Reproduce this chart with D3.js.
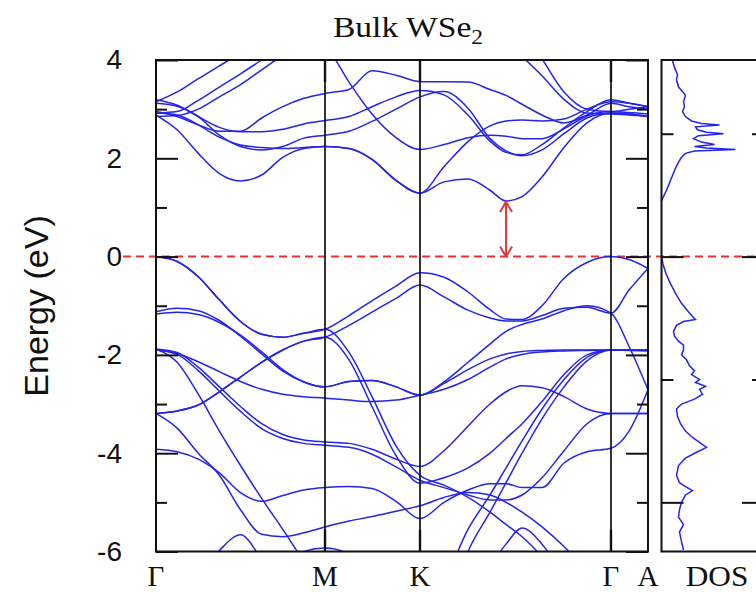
<!DOCTYPE html>
<html><head><meta charset="utf-8">
<script src="https://cdn.jsdelivr.net/npm/d3@7"></script>
<style>body{margin:0;background:#fff;} svg{display:block;}</style>
</head><body>
<svg id="chart" width="756" height="592"></svg>
<script>
// ---------- data ----------
// k-path sample positions (path length units, Γ–M = 1)
const kPoints = [0,0.125,0.25,0.375,0.5,0.625,0.75,0.875,1.0,
  1.142,1.278,1.420,1.562,
  1.704,1.846,1.976,2.071,2.166,2.284,2.414,2.550,2.692,
  2.799,2.911];
const symLabels = ["Γ","M","K","Γ","A"];
const symK = [0,1.0,1.562,2.692,2.911];
const energyTicks = [4,2,0,-2,-4,-6];
const energyMinorTicks = [3,1,-1,-3,-5];
const dosMajorTicks = [0,-5];
const dosMinorTicks = [2.5,-2.5];

// conduction bands (eV) at kPoints
const cb1 = [2.88,2.58,2.10,1.69,1.54,1.66,2.02,2.20,2.24, 2.20,1.98,1.55,1.29, 1.52,1.58,1.35,1.13,1.22,1.62,2.22,2.72,2.92, 2.90,2.85];
const cb2 = [2.92,2.88,2.68,2.43,2.27,2.22,2.20,2.22,2.24, 2.20,1.98,1.55,1.29, 1.83,2.34,2.66,2.76,2.78,2.76,2.80,3.00,3.15, 3.12,3.05];
const cb3 = [3.19,3.08,2.85,2.63,2.54,2.54,2.59,2.70,2.77, 2.85,3.05,3.25,3.38, 3.29,2.88,2.35,2.12,2.07,2.28,2.62,2.95,3.19, 3.12,3.05];
const cb4 = [3.12,3.06,2.85,2.47,2.24,2.17,2.24,2.41,2.47, 2.55,2.75,3.00,3.25, 3.36,3.02,2.40,2.15,2.05,2.17,2.50,2.82,2.92, 2.90,2.85];
const cb5 = [2.95,2.85,2.68,2.55,2.55,2.82,3.05,3.22,3.32, 3.40,3.78,3.69,3.56, 3.56,3.55,3.40,3.28,3.10,2.88,2.72,2.88,3.12, 3.05,3.00];
const cb6 = [5.6,5.5,5.4,5.2,5.0,4.85,4.7,4.5,4.3, 3.55,2.90,2.42,2.18, 2.28,2.42,2.47,2.45,2.40,2.40,2.60,2.86,2.95, 2.93,2.90];
const cb7 = [3.15,3.35,3.62,3.88,4.15,4.5,4.9,5.3,5.7, 6,6,6,6, 6,6,6,6,6,6,6,6,6, 6,6];
const cb8 = [2.92,2.95,3.18,3.45,3.72,4.0,4.3,4.6,4.9, 6,6,6,6, 6,6,6,6,6,6,6,6,6, 6,6];
const cb9 = [2.85,2.87,3.0,3.25,3.5,3.8,4.1,4.4,4.7, 6,6,6,6, 6,6,6,6,6,6,6,6,6, 6,6];
const cb10 = [6,6,6,6,6,6,6,6,6, 6,6,6,6, 6,5.3,4.85,4.45,4.08,3.68,3.2,2.92,2.90, 2.88,2.85];
const cb11 = [6,6,6,6,6,6,6,6,6, 6,6,6,6, 6,6,5.6,5.1,4.6,4.02,3.35,3.0,2.95, 3.0,3.05];

// valence bands (eV) at kPoints
const vb1 = [0,-0.10,-0.41,-0.88,-1.32,-1.58,-1.64,-1.56,-1.48, -1.20,-0.90,-0.60,-0.33, -0.42,-0.72,-1.08,-1.27,-1.28,-1.00,-0.44,-0.12,0.00, -0.06,-0.24];
const vb2 = [-3.19,-3.14,-3.02,-2.75,-2.45,-2.15,-1.90,-1.72,-1.64, -1.40,-1.13,-0.85,-0.58, -0.82,-1.09,-1.25,-1.31,-1.31,-1.20,-1.05,-1.03,-1.15, -0.68,-0.24];
const vb3 = [-1.12,-1.05,-1.10,-1.30,-1.62,-1.98,-2.33,-2.55,-2.65, -2.54,-2.52,-2.65,-2.82, -2.55,-2.15,-1.78,-1.52,-1.38,-1.27,-1.10,-1.00,-1.15, -1.83,-2.71];
const vb4 = [-1.17,-1.13,-1.18,-1.34,-1.60,-1.94,-2.30,-2.55,-2.65, -2.54,-2.52,-2.65,-2.82, -2.58,-2.30,-2.08,-1.98,-1.93,-1.91,-1.90,-1.90,-1.90, -1.90,-1.90];
const vb5 = [-1.90,-1.97,-2.14,-2.34,-2.54,-2.70,-2.80,-2.85,-2.88, -2.92,-2.95,-2.92,-2.82, -2.70,-2.50,-2.25,-2.08,-1.99,-1.94,-1.92,-1.91,-1.90, -1.91,-1.92];
const vb6 = [-1.88,-2.15,-2.80,-3.55,-4.25,-4.92,-5.55,-6.20,-6.80, -7.2,-7.4,-7.4,-7.2, -6.6,-5.55,-4.85,-4.30,-3.75,-3.10,-2.50,-2.05,-1.90, -1.90,-1.90];
const vb7 = [-1.88,-1.95,-2.25,-2.65,-3.05,-3.40,-3.62,-3.73,-3.77, -3.80,-3.92,-4.12,-4.27, -3.95,-3.45,-3.00,-2.75,-2.63,-2.67,-2.85,-3.10,-3.19, -3.19,-3.19];
const vb8 = [-1.90,-1.99,-2.32,-2.74,-3.15,-3.50,-3.70,-3.80,-3.84, -3.88,-4.02,-4.28,-4.55, -4.70,-4.85,-4.95,-4.95,-4.85,-4.50,-3.95,-3.40,-3.19, -3.19,-3.19];
const vb9 = [-3.19,-3.49,-4.00,-4.45,-5.15,-5.65,-5.70,-5.62,-5.50, -5.38,-5.29,-5.18,-5.07, -4.90,-4.80,-4.85,-5.00,-5.20,-5.50,-5.90,-6.40,-6.90, -7.2,-7.4];
const vb10 = [-3.92,-3.97,-4.12,-4.40,-4.80,-4.98,-4.86,-4.75,-4.70, -4.68,-4.72,-4.98,-5.33, -5.00,-4.75,-4.62,-4.62,-4.70,-4.70,-4.20,-3.97,-3.90, -3.55,-2.71];
const vb11 = [0,-0.10,-0.41,-0.88,-1.32,-1.58,-1.64,-1.56,-1.48, -1.95,-2.85,-3.85,-4.45, -4.65,-4.90,-5.20,-5.45,-5.70,-6.10,-6.60,-7.0,-7.2, -7.3,-7.4];
const vb12 = [-3.19,-3.14,-3.02,-2.75,-2.45,-2.15,-1.90,-1.72,-1.64, -2.10,-3.05,-4.05,-4.61, -4.50,-4.30,-4.00,-3.70,-3.40,-2.95,-2.40,-2.00,-1.90, -1.90,-1.90];
const vb13 = [-7.2,-7.0,-6.5,-5.98,-5.66,-6.15,-6.7,-7.2,-7.4, -7.4,-7.4,-7.4,-7.4, -7.4,-7.4,-7.4,-7.4,-7.4,-7.4,-7.4,-7.4,-7.4, -7.4,-7.4];
const vb14 = [-7.4,-7.4,-7.4,-7.4,-7.4,-7.4,-7.4,-7.4,-7.4, -7.4,-7.4,-7.4,-7.4, -7.4,-7.0,-6.3,-5.85,-5.52,-5.85,-6.5,-7.0,-7.4, -7.4,-7.4];
const vb15 = [-7.4,-7.4,-7.4,-7.4,-7.2,-6.9,-6.4,-6.0,-5.93, -6.05,-6.4,-7.0,-7.4, -7.4,-7.4,-7.4,-7.4,-7.4,-7.4,-7.4,-7.4,-7.4, -7.4,-7.4];
const vb16 = [-7.4,-7.4,-7.4,-7.4,-7.4,-7.4,-7.4,-7.4,-7.4, -7.4,-7.4,-7.4,-7.4, -7.4,-6.0,-5.2,-4.6,-4.0,-3.3,-2.65,-2.12,-1.90, -1.90,-1.90];

const bands = [cb1,cb2,cb3,cb4,cb5,cb6,cb7,cb8,cb9,cb10,cb11,
  vb1,vb2,vb3,vb4,vb5,vb6,vb7,vb8,vb9,vb10,vb11,vb12,vb13,vb14,vb15,vb16];

// density of states (arbitrary units) vs energy
const dosCbEnergy = [3.98,3.85,3.70,3.60,3.45,3.36,3.28,3.15,3.05,2.95,2.85,2.76,2.71,2.68,2.64,2.58,2.53,2.50,2.46,2.40,2.33,2.28,2.24,2.21,2.18,2.15,2.10,2.02,1.92,1.80,1.65,1.50,1.35,1.22,1.14];
const dosCbValue  = [11,13,16,15,17,21,24,22,23,21,24,30,40,58,34,36,45,62,37,32,40,53,33,45,74,33,24,20,17,14,11,8,5,2,0];
const dosVbEnergy = [0.0,-0.15,-0.35,-0.55,-0.75,-0.95,-1.10,-1.22,-1.28,-1.32,-1.40,-1.52,-1.62,-1.72,-1.80,-1.90,-2.00,-2.10,-2.22,-2.32,-2.40,-2.50,-2.56,-2.64,-2.70,-2.80,-2.90,-3.00,-3.10,-3.25,-3.40,-3.55,-3.68,-3.78,-3.88,-3.98,-4.10,-4.25,-4.45,-4.60,-4.68,-4.76,-4.85,-5.00,-5.15,-5.30,-5.45,-5.60,-5.80,-5.97];
const dosVbValue  = [0,1.5,4.5,9,14,20,26,31,34,22,15,12,13,17,22,22,20,25,28,33,30,38,34,44,38,41,33,20,15,16,19,24,31,38,45,35,24,17,15,18,24,31,24,20,18,17,22,18,20,22];

// ---------- layout ----------
const L = 156, R = 648, T = 60, B = 551.5;
const dosL = 661.5, dosR = 764;
const blue = "#2424ee", red = "#f03030";

const svg = d3.select("#chart");
const x = d3.scaleLinear().domain([0, 2.911]).range([L, R]);
const y = d3.scaleLinear().domain([-6, 4]).range([B, T]);
const xd = d3.scaleLinear().domain([0, 100]).range([dosL, dosL + 100]);

const defs = svg.append("defs");
defs.append("clipPath").attr("id","clipMain").append("rect")
  .attr("x",L).attr("y",T).attr("width",R-L).attr("height",B-T);
defs.append("clipPath").attr("id","clipDos").append("rect")
  .attr("x",dosL).attr("y",T).attr("width",dosR-dosL).attr("height",B-T);

// zero (Fermi) line
svg.append("line").attr("x1",123).attr("x2",dosR).attr("y1",y(0)).attr("y2",y(0))
  .attr("stroke",red).attr("stroke-width",2).attr("stroke-dasharray","8,5");

// bands
const line = d3.line().x((d,i)=>x(kPoints[i])).y(d=>y(d)).curve(d3.curveMonotoneX);
const gB = svg.append("g").attr("clip-path","url(#clipMain)");
gB.selectAll("path.band").data(bands).join("path").attr("class","band")
  .attr("d", line).attr("fill","none").attr("stroke",blue).attr("stroke-width",1.5);

// high-symmetry verticals
svg.append("g").selectAll("line").data(symK.slice(1,4)).join("line")
  .attr("x1",d=>x(d)).attr("x2",d=>x(d)).attr("y1",T).attr("y2",B)
  .attr("stroke","#111").attr("stroke-width",1.7);
const tickG = svg.append("g");
symK.slice(1,4).forEach(k=>{
  tickG.append("line").attr("x1",x(k)).attr("x2",x(k)).attr("y1",T).attr("y2",T+22).attr("stroke","#111").attr("stroke-width",2.4);
  tickG.append("line").attr("x1",x(k)).attr("x2",x(k)).attr("y1",B-22).attr("y2",B).attr("stroke","#111").attr("stroke-width",2.4);
});

// band gap arrow at conduction band minimum
const kvIdx = d3.range(13,21);
const cbmIdx = kvIdx.reduce((a,b)=> cb1[b] < cb1[a] ? b : a);
const ax = x(kPoints[cbmIdx]), ay1 = y(0), ay2 = y(cb1[cbmIdx]) + 1;
const ag = svg.append("g").attr("stroke","#e2393c").attr("stroke-width",2).attr("fill","none");
ag.append("line").attr("x1",ax).attr("x2",ax).attr("y1",ay1).attr("y2",ay2);
ag.append("path").attr("d",`M${ax-6},${ay2+10}L${ax},${ay2}L${ax+6},${ay2+10}`);
ag.append("path").attr("d",`M${ax-6},${ay1-10}L${ax},${ay1}L${ax+6},${ay1-10}`);

// axes (main panel)
function styleAxis(g){ g.select(".domain").remove(); g.selectAll(".tick line").attr("stroke","#111").attr("stroke-width",2); }
svg.append("g").attr("transform",`translate(${L},0)`)
  .call(d3.axisLeft(y).tickValues(energyTicks).tickSize(-22).tickPadding(34).tickFormat(d=>String(d)))
  .call(styleAxis)
  .call(g=>g.selectAll("text").attr("font-family","'Liberation Sans', Arial, sans-serif").attr("font-size",28).attr("fill","#111"));
svg.append("g").attr("transform",`translate(${L},0)`)
  .call(d3.axisLeft(y).tickValues(energyMinorTicks).tickSize(-11).tickFormat(""))
  .call(styleAxis);
svg.append("g").attr("transform",`translate(${R},0)`)
  .call(d3.axisRight(y).tickValues(energyTicks).tickSize(-22).tickFormat(""))
  .call(styleAxis);
svg.append("g").attr("transform",`translate(${R},0)`)
  .call(d3.axisRight(y).tickValues(energyMinorTicks).tickSize(-11).tickFormat(""))
  .call(styleAxis);

// DOS panel
const dosLine = d3.line().x(d=>xd(d[1])).y(d=>y(d[0])).curve(d3.curveLinear);
const gD = svg.append("g").attr("clip-path","url(#clipDos)");
gD.append("path").attr("d", dosLine(d3.zip(dosCbEnergy,dosCbValue))).attr("fill","none").attr("stroke",blue).attr("stroke-width",1.5);
gD.append("path").attr("d", dosLine(d3.zip(dosVbEnergy,dosVbValue))).attr("fill","none").attr("stroke",blue).attr("stroke-width",1.5);
[[dosL, d3.axisLeft],[dosR, d3.axisRight]].forEach(([px,axf])=>{
  svg.append("g").attr("transform",`translate(${px},0)`)
    .call(axf(y).tickValues(dosMajorTicks).tickSize(-22).tickFormat("")).call(styleAxis);
  svg.append("g").attr("transform",`translate(${px},0)`)
    .call(axf(y).tickValues(dosMinorTicks).tickSize(-12).tickFormat("")).call(styleAxis);
});

// frames
svg.append("rect").attr("x",L).attr("y",T).attr("width",R-L).attr("height",B-T)
  .attr("fill","none").attr("stroke","#111").attr("stroke-width",2);
svg.append("rect").attr("x",dosL).attr("y",T).attr("width",dosR-dosL).attr("height",B-T)
  .attr("fill","none").attr("stroke","#111").attr("stroke-width",2);

// labels
const serif = "'Liberation Serif','Times New Roman',serif";
svg.append("g").selectAll("text").data(symK).join("text")
  .attr("x",d=>x(d)).attr("y",586).attr("text-anchor","middle")
  .attr("font-family",serif).attr("font-size",29).attr("fill","#111")
  .text((d,i)=>symLabels[i]);
svg.append("text").attr("x",717).attr("y",586).attr("text-anchor","middle")
  .attr("font-family",serif).attr("font-size",29).attr("fill","#111")
  .attr("transform","translate(717,0) scale(1.08,1) translate(-717,0)").text("DOS");

const title = svg.append("text").attr("x",408).attr("y",37).attr("text-anchor","middle")
  .attr("font-family",serif).attr("font-size",30).attr("fill","#111")
  .attr("transform","translate(408,0) scale(1.12,1) translate(-408,0)");
title.append("tspan").text("Bulk WSe");
title.append("tspan").attr("font-size",21).attr("dy",7).text("2");

svg.append("text").attr("transform","translate(48,306) rotate(-90)").attr("text-anchor","middle")
  .attr("font-family","'Liberation Sans', Arial, sans-serif").attr("font-size",34).attr("fill","#111")
  .text("Energy (eV)");
</script>
</body></html>
